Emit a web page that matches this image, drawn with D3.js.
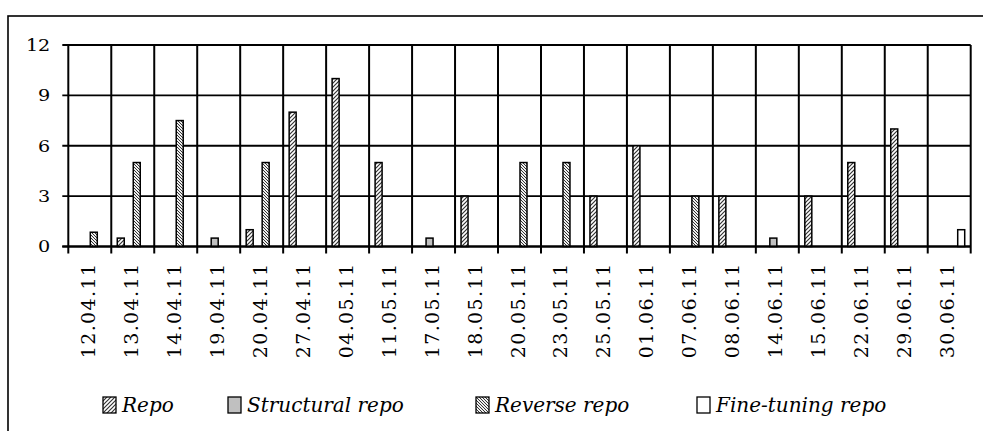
<!DOCTYPE html>
<html>
<head>
<meta charset="utf-8">
<script src="https://cdn.jsdelivr.net/npm/d3@7"></script>
<style>
  html, body { margin: 0; padding: 0; background: #fff; }
  svg { display: block; }
</style>
</head>
<body>
<script>
// Operation dates (categories)
const categories = ["12.04.11","13.04.11","14.04.11","19.04.11","20.04.11","27.04.11","04.05.11",
  "11.05.11","17.05.11","18.05.11","20.05.11","23.05.11","25.05.11","01.06.11","07.06.11",
  "08.06.11","14.06.11","15.06.11","22.06.11","29.06.11","30.06.11"];

const seriesNames = ["Repo", "Structural repo", "Reverse repo", "Fine-tuning repo"];

// Series values per date (0 = no operation)
const repo       = [0, 0.5, 0, 0, 1, 8, 10, 5, 0, 3, 0, 0, 3, 6, 0, 3, 0, 3, 5, 7, 0];
const structural = [0, 0, 0, 0.5, 0, 0, 0, 0, 0.5, 0, 0, 0, 0, 0, 0, 0, 0.5, 0, 0, 0, 0];
const reverse    = [0.85, 5, 7.5, 0, 5, 0, 0, 0, 0, 0, 5, 5, 0, 0, 3, 0, 0, 0, 0, 0, 0];
const fineTuning = [0, 0, 0, 0, 0, 0, 0, 0, 0, 0, 0, 0, 0, 0, 0, 0, 0, 0, 0, 0, 1];

const yTicks = [0, 3, 6, 9, 12];

const W = 983, H = 431;
const plot = { left: 68.3, right: 970.7, top: 45, bottom: 246.5 };

const svg = d3.select("body").append("svg")
  .attr("width", W).attr("height", H)
  .attr("viewBox", `0 0 ${W} ${H}`);

const defs = svg.append("defs");

// Fill patterns
const pRepo = defs.append("pattern").attr("id", "pRepo")
  .attr("patternUnits", "userSpaceOnUse").attr("width", 4).attr("height", 4);
pRepo.append("rect").attr("width", 4).attr("height", 4).attr("fill", "#fff");
pRepo.append("path").attr("d", "M-1,1 L1,-1 M0,4 L4,0 M3,5 L5,3")
  .attr("stroke", "#333").attr("stroke-width", 1.2);

const pRev = defs.append("pattern").attr("id", "pRev")
  .attr("patternUnits", "userSpaceOnUse").attr("width", 3).attr("height", 3);
pRev.append("rect").attr("width", 3).attr("height", 3).attr("fill", "#eee");
pRev.append("path").attr("d", "M-1,2 L1,4 M0,0 L3,3 M2,-1 L4,1")
  .attr("stroke", "#333").attr("stroke-width", 1);

const fills = ["url(#pRepo)", "#c0c0c0", "url(#pRev)", "#ffffff"];

// Outer frame
svg.append("rect")
  .attr("x", 8).attr("y", 16).attr("width", 1100).attr("height", 600)
  .attr("fill", "none").attr("stroke", "#000").attr("stroke-width", 1.6);

// Scales
const x0 = d3.scaleBand().domain(categories).range([plot.left, plot.right]).padding(0);
const x1 = d3.scaleBand().domain(seriesNames).range([0, x0.bandwidth()])
  .paddingInner(0).paddingOuter(0.6875);
const y = d3.scaleLinear().domain([0, 12]).range([plot.bottom, plot.top]);

// Horizontal gridlines with small left ticks
svg.append("g").selectAll("line").data(yTicks).join("line")
  .attr("x1", plot.left - 6).attr("x2", plot.right)
  .attr("y1", d => y(d)).attr("y2", d => y(d))
  .attr("stroke", "#000").attr("stroke-width", 1.9);

// Vertical category separators, extending below the axis as tick marks
const bounds = categories.map(c => x0(c)).concat([plot.right]);
svg.append("g").selectAll("line").data(bounds).join("line")
  .attr("x1", d => d).attr("x2", d => d)
  .attr("y1", plot.top).attr("y2", plot.bottom + 7)
  .attr("stroke", "#000").attr("stroke-width", 2);

// Y axis labels
const yAxis = d3.axisLeft(y).tickValues(yTicks).tickSize(0).tickPadding(0);
const gy = svg.append("g").attr("transform", `translate(${plot.left},0)`).call(yAxis);
gy.select(".domain").remove();
gy.selectAll(".tick text")
  .attr("x", null).attr("dy", null)
  .attr("font-family", "DejaVu Serif").attr("font-size", 16)
  .attr("fill", "#000").attr("text-anchor", "end")
  .attr("dominant-baseline", "central")
  .attr("transform", "translate(-18,0) scale(1.2,1)");

// Bars
const seriesValues = [repo, structural, reverse, fineTuning];
const barData = [];
categories.forEach((c, i) => {
  seriesNames.forEach((s, k) => {
    const v = seriesValues[k][i];
    if (v > 0) barData.push({ c, s, k, v });
  });
});

svg.append("g").selectAll("rect").data(barData).join("rect")
  .attr("x", d => x0(d.c) + x1(d.s) + 0.5)
  .attr("width", x1.bandwidth() - 1)
  .attr("y", d => y(d.v))
  .attr("height", d => y(0) - y(d.v))
  .attr("fill", d => fills[d.k])
  .attr("stroke", "#000").attr("stroke-width", 1.5);

// Baseline redraw on top of bars
svg.append("line")
  .attr("x1", plot.left - 6).attr("x2", plot.right)
  .attr("y1", y(0)).attr("y2", y(0))
  .attr("stroke", "#000").attr("stroke-width", 1.9);

// X axis labels (rotated dates)
const xAxis = d3.axisBottom(x0).tickSize(0).tickPadding(0);
const gx = svg.append("g").attr("transform", `translate(0,${plot.bottom})`).call(xAxis);
gx.select(".domain").remove();
gx.selectAll(".tick text")
  .attr("y", null).attr("dy", null)
  .attr("font-family", "DejaVu Serif").attr("font-size", 19)
  .attr("letter-spacing", 1.4)
  .attr("fill", "#000").attr("text-anchor", "end")
  .attr("dominant-baseline", "central")
  .attr("transform", "translate(-2,16) rotate(-90)");

// Legend
const legendX = [103, 228, 476, 697];
const lg = svg.append("g").selectAll("g").data(seriesNames).join("g")
  .attr("transform", (d, i) => `translate(${legendX[i]},397)`);
lg.append("rect")
  .attr("width", 13).attr("height", 16)
  .attr("fill", (d, i) => fills[i])
  .attr("stroke", "#000").attr("stroke-width", 1.3);
lg.append("text")
  .attr("x", 19).attr("y", 15)
  .attr("font-family", "DejaVu Serif").attr("font-style", "italic")
  .attr("font-size", 20).attr("fill", "#000")
  .text(d => d);
</script>
</body>
</html>
